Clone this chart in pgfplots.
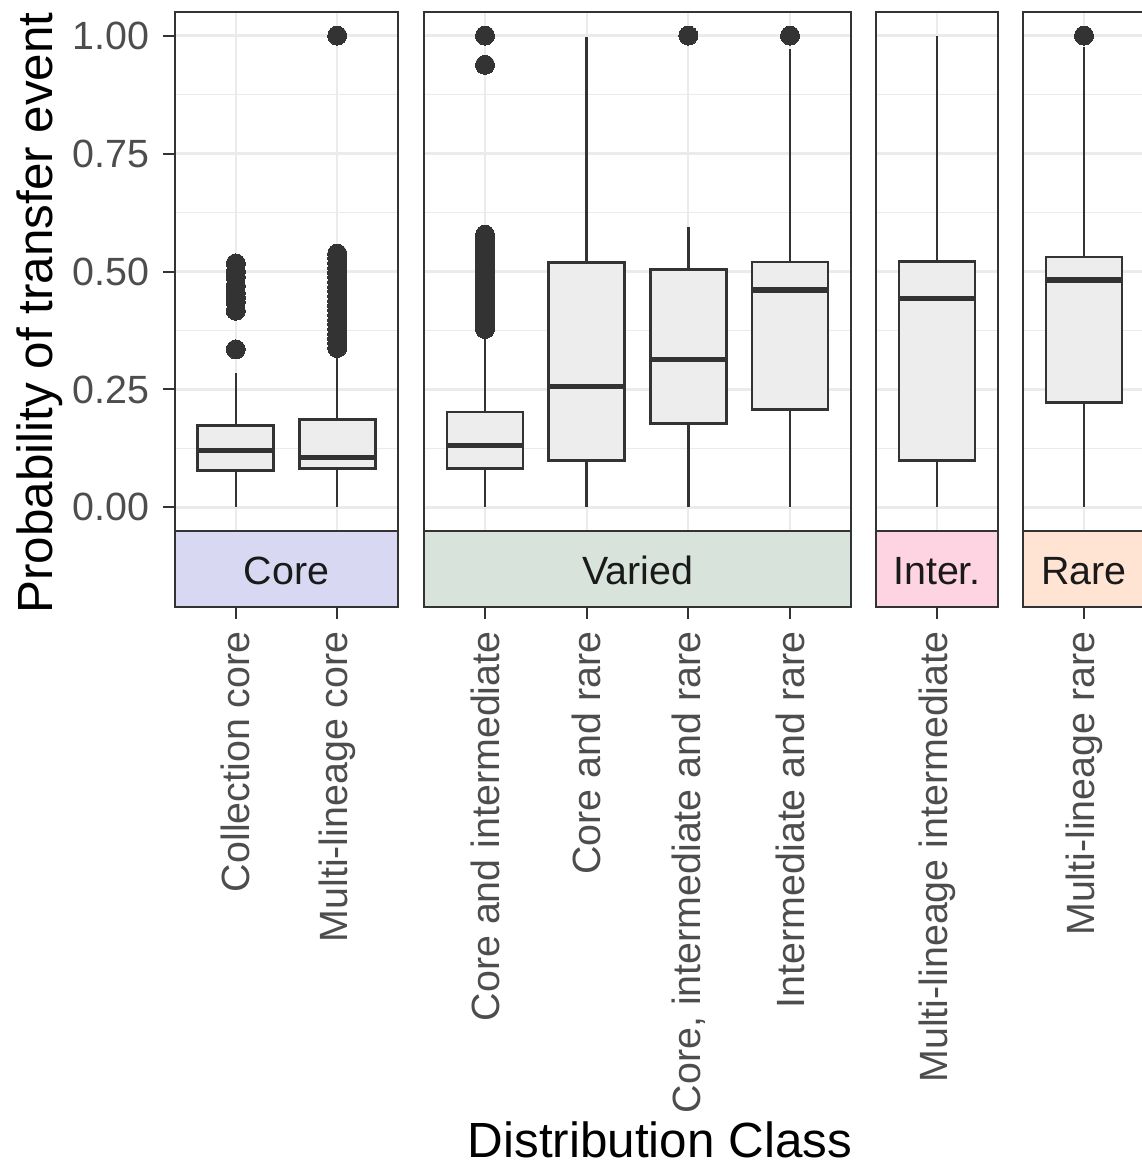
\documentclass[border=0pt]{standalone}
\usepackage{pgfplots}
\pgfplotsset{compat=1.18}
\usepgfplotslibrary{statistics}
\usepackage{fontspec}
\setmainfont{Liberation Sans}
\definecolor{grey20}{HTML}{333333}
\definecolor{grey30}{HTML}{4D4D4D}
\definecolor{grey10}{HTML}{1A1A1A}
\definecolor{gridc}{HTML}{EBEBEB}
\definecolor{boxfill}{HTML}{EDEDED}
\definecolor{corec}{HTML}{D8D8F3}
\definecolor{variedc}{HTML}{D8E3DC}
\definecolor{interc}{HTML}{FFD4E2}
\definecolor{rarec}{HTML}{FFE4D3}
\newcommand{\tickfont}{\fontsize{19.7}{23}\selectfont}
\newcommand{\titlefont}{\fontsize{24.7}{29}\selectfont}
\tikzset{strip/.style={draw=grey20, fill=#1, line width=1pt}}
\pgfplotsset{
  panel/.style={
    anchor=north west, scale only axis, height=259.5pt,
    ymin=-0.05, ymax=1.05, clip=false,
    ytick={0,0.25,0.5,0.75,1}, minor ytick={0.125,0.375,0.625,0.875},
    grid=both,
    major grid style={gridc, line width=1.1pt},
    minor grid style={gridc, line width=0.55pt},
    axis line style={grey20, line width=1pt},
    xtick style={draw=none}, ytick style={draw=none},
    minor tick length=0pt, ytick pos=left,
    yticklabels={},
    xticklabel style={font=\tickfont, text=grey30, inner sep=0pt, yshift=-50pt, rotate=90, anchor=east},
    boxplot/draw direction=y,
    boxplot/box extend=0.75, boxplot/whisker extend=0,
    boxplot/every box/.style={draw=grey20, fill=boxfill, line width=1.35pt},
    boxplot/every whisker/.style={draw=grey20, line width=1.3pt},
    boxplot/every median/.style={draw=grey20, line width=2.6pt},
  },
  bx/.style={draw=grey20, solid, mark=*, mark size=4.75pt, mark options={fill=grey20, draw=grey20, line width=0pt}},
}
\newcommand{\striptext}[1]{\node[font=\tickfont, text=grey10, anchor=base] at ([yshift=-26.5pt]rel axis cs:0.5,0) {#1};}
\begin{document}
\begin{tikzpicture}
% Panel 1: Core
\begin{axis}[panel, at={(87.5pt,-6pt)}, width=111.5pt,
  xmin=-0.6, xmax=1.6, xtick={0,1}, xticklabels={Collection core, Multi-lineage core},
  xticklabel style={xshift=6pt},
  yticklabels={0.00,0.25,0.50,0.75,1.00},
  yticklabel style={font=\tickfont, text=grey30, xshift=-3.5pt},
  ytick style={draw=grey20, line width=1pt}, tick align=outside, major tick length=6pt]
\addplot[bx, boxplot prepared={draw position=0, lower whisker=0, lower quartile=0.078, median=0.120, upper quartile=0.174, upper whisker=0.285}]
 table[row sep=\\, y index=0] {d\\ 0.335\\ 0.417\\ 0.435\\ 0.445\\ 0.455\\ 0.470\\ 0.488\\ 0.500\\ 0.517\\};
\addplot[bx, boxplot prepared={draw position=1, lower whisker=0, lower quartile=0.082, median=0.105, upper quartile=0.187, upper whisker=0.325}]
 table[row sep=\\, y index=0] {d\\ 0.338\\ 0.348\\ 0.358\\ 0.368\\ 0.378\\ 0.388\\ 0.398\\ 0.408\\ 0.418\\ 0.428\\ 0.438\\ 0.448\\ 0.458\\ 0.468\\ 0.478\\ 0.488\\ 0.498\\ 0.508\\ 0.518\\ 0.528\\ 0.538\\ 1.000\\};
\draw[strip=corec] (rel axis cs:0,0) rectangle ([yshift=-38pt]rel axis cs:1,0);
\striptext{Core}
\pgfplotsinvokeforeach{0,1}{\draw[grey20, line width=1pt] ([yshift=-38pt]axis cs:#1,-0.05) -- ([yshift=-44pt]axis cs:#1,-0.05);}
\end{axis}
% Panel 2: Varied
\begin{axis}[panel, at={(212pt,-6pt)}, width=213.5pt,
  xmin=-0.6, xmax=3.6, xtick={0,1,2,3},
  xticklabels={Core and intermediate, Core and rare, {Core, intermediate and rare}, Intermediate and rare}]
\addplot[bx, boxplot prepared={draw position=0, lower whisker=0, lower quartile=0.082, median=0.132, upper quartile=0.202, upper whisker=0.362}]
 table[row sep=\\, y index=0] {d\\ 0.378\\ 0.388\\ 0.398\\ 0.408\\ 0.418\\ 0.428\\ 0.438\\ 0.448\\ 0.458\\ 0.468\\ 0.478\\ 0.488\\ 0.498\\ 0.508\\ 0.518\\ 0.528\\ 0.538\\ 0.548\\ 0.558\\ 0.568\\ 0.578\\ 0.938\\ 1.000\\};
\addplot[bx, boxplot prepared={draw position=1, lower whisker=0, lower quartile=0.100, median=0.256, upper quartile=0.519, upper whisker=0.998}] coordinates {};
\addplot[bx, boxplot prepared={draw position=2, lower whisker=0, lower quartile=0.178, median=0.314, upper quartile=0.505, upper whisker=0.594}]
 table[row sep=\\, y index=0] {d\\ 1.000\\};
\addplot[bx, boxplot prepared={draw position=3, lower whisker=0, lower quartile=0.2075, median=0.461, upper quartile=0.520, upper whisker=0.971}]
 table[row sep=\\, y index=0] {d\\ 1.000\\};
\draw[strip=variedc] (rel axis cs:0,0) rectangle ([yshift=-38pt]rel axis cs:1,0);
\striptext{Varied}
\pgfplotsinvokeforeach{0,1,2,3}{\draw[grey20, line width=1pt] ([yshift=-38pt]axis cs:#1,-0.05) -- ([yshift=-44pt]axis cs:#1,-0.05);}
\end{axis}
% Panel 3: Inter.
\begin{axis}[panel, at={(438pt,-6pt)}, width=61pt,
  xmin=-0.6, xmax=0.6, xtick={0}, xticklabels={Multi-lineage intermediate}]
\addplot[bx, boxplot prepared={draw position=0, lower whisker=0, lower quartile=0.100, median=0.442, upper quartile=0.521, upper whisker=1.0}] coordinates {};
\draw[strip=interc] (rel axis cs:0,0) rectangle ([yshift=-38pt]rel axis cs:1,0);
\striptext{Inter.}
\draw[grey20, line width=1pt] ([yshift=-38pt]axis cs:0,-0.05) -- ([yshift=-44pt]axis cs:0,-0.05);
\end{axis}
% Panel 4: Rare
\begin{axis}[panel, at={(511.5pt,-6pt)}, width=61pt,
  xmin=-0.6, xmax=0.6, xtick={0}, xticklabels={Multi-lineage rare}]
\addplot[bx, boxplot prepared={draw position=0, lower whisker=0, lower quartile=0.223, median=0.482, upper quartile=0.531, upper whisker=0.975}]
 table[row sep=\\, y index=0] {d\\ 1.000\\};
\draw[strip=rarec] (rel axis cs:0,0) rectangle ([yshift=-38pt]rel axis cs:1,0);
\striptext{Rare}
\draw[grey20, line width=1pt] ([yshift=-38pt]axis cs:0,-0.05) -- ([yshift=-44pt]axis cs:0,-0.05);
\end{axis}
\node[font=\titlefont, anchor=base] at (330pt,-578.5pt) {Distribution Class};
\node[font=\titlefont, rotate=90, anchor=base] at (26pt,-156.5pt) {Probability of transfer event};
\pgfresetboundingbox
\useasboundingbox (0,0) rectangle (570.5pt,-586pt);
\end{tikzpicture}
\end{document}
